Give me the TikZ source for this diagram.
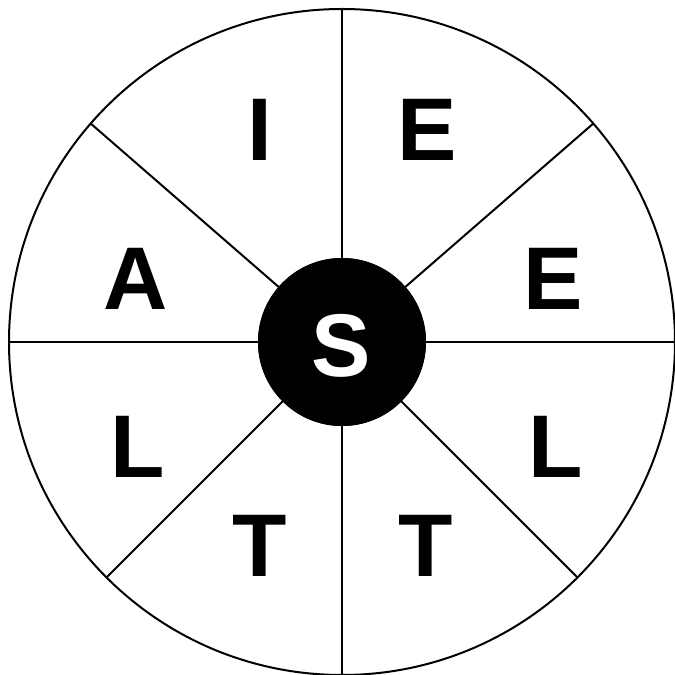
\documentclass[tikz,border=0pt]{standalone}
\usepackage{fontspec}
\setmainfont{Liberation Sans}
\begin{document}
\begin{tikzpicture}[x=1pt,y=1pt,
  ring/.style={circle, draw=black, line width=2pt, inner sep=0pt, outer sep=0pt},
  spoke/.style={draw=black, line width=2pt},
  letter/.style={inner sep=0pt, anchor=base, font=\fontsize{89}{89}\selectfont\bfseries}]
\useasboundingbox (0,0) rectangle (675,675);
\node[ring, minimum size=666pt] (o) at (342,333) {};
\node[ring, minimum size=166pt] (c0) at (342,333) {};
\foreach \a in {0,41,90,139,180,225,270,315}
  \draw[spoke] (c0.\a) -- (o.\a);
\node[ring, fill=black, minimum size=166pt] (c) at (342,333) {};
\node[letter, text=white] (s) at (341,298) {S};
\node[letter] (l1) at (260,514) {I};
\node[letter] (l2) at (427,514) {E};
\node[letter] (l3) at (136,365) {A};
\node[letter] (l4) at (553,365) {E};
\node[letter] (l5) at (138,197) {L};
\node[letter] (l6) at (556,197) {L};
\node[letter] (l7) at (260,98) {T};
\node[letter] (l8) at (426,98) {T};
\end{tikzpicture}
\end{document}
